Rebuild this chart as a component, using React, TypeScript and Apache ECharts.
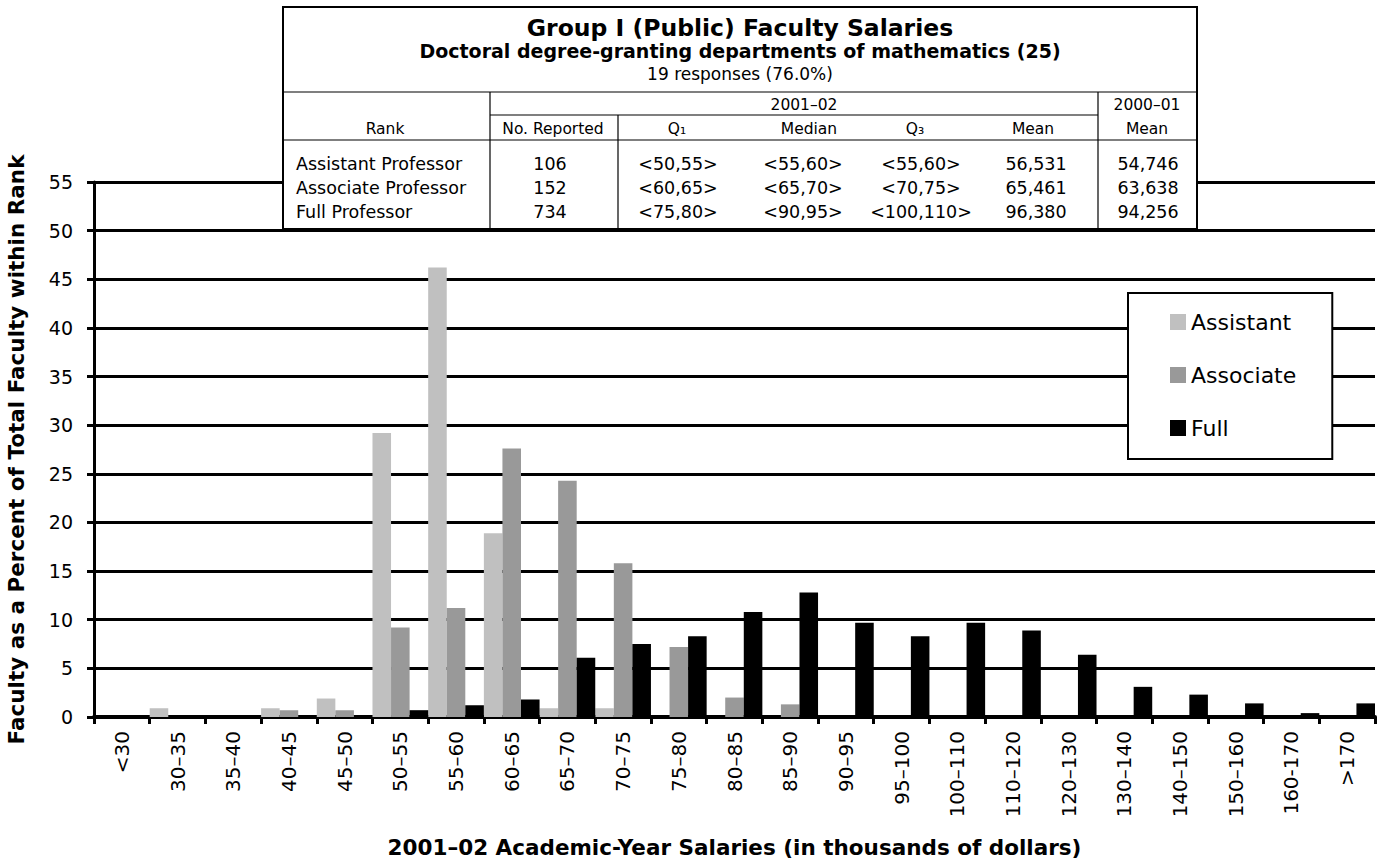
import { useEffect, useRef } from 'react';
import * as echarts from 'echarts';

const categories = ['<30', '30–35', '35–40', '40–45', '45–50', '50–55', '55–60', '60–65', '65–70', '70–75', '75–80', '80–85', '85–90', '90–95', '95–100', '100–110', '110–120', '120–130', '130–140', '140–150', '150–160', '160-170', '>170'];
const assistant = [0, 0.9, 0, 0.9, 1.9, 29.2, 46.2, 18.9, 0.9, 0.9, 0, 0, 0, 0, 0, 0, 0, 0, 0, 0, 0, 0, 0];
const associate = [0, 0, 0, 0.7, 0.7, 9.2, 11.2, 27.6, 24.3, 15.8, 7.2, 2.0, 1.3, 0, 0, 0, 0, 0, 0, 0, 0, 0, 0];
const full = [0, 0, 0, 0, 0, 0.7, 1.2, 1.8, 6.1, 7.5, 8.3, 10.8, 12.8, 9.7, 8.3, 9.7, 8.9, 6.4, 3.1, 2.3, 1.4, 0.4, 1.4];

const seriesNames = ['Assistant', 'Associate', 'Full'];
const seriesColors = ['#c0c0c0', '#999999', '#000000'];

const tableTitle = 'Group I (Public) Faculty Salaries';
const tableSubtitle = 'Doctoral degree-granting departments of mathematics (25)';
const tableResponses = '19 responses (76.0%)';
const periodHeaders = ['2001–02', '2000–01'];
const columnHeaders = ['Rank', 'No. Reported', 'Q₁', 'Median', 'Q₃', 'Mean', 'Mean'];
const rankNames = ['Assistant Professor', 'Associate Professor', 'Full Professor'];
const noReported = ['106', '152', '734'];
const q1Values = ['<50,55>', '<60,65>', '<75,80>'];
const medianValues = ['<55,60>', '<65,70>', '<90,95>'];
const q3Values = ['<55,60>', '<70,75>', '<100,110>'];
const mean0102 = ['56,531', '65,461', '96,380'];
const mean0001 = ['54,746', '63,638', '94,256'];

const FONT = '"DejaVu Sans", "Open Sans", sans-serif';

function txt(text: string, x: number, y: number, size: number, bold = false, align = 'center') {
  return {
    type: 'text',
    z: 101,
    style: {
      text,
      x,
      y,
      fill: '#000',
      fontSize: size,
      fontFamily: FONT,
      fontWeight: bold ? 'bold' : 'normal',
      align,
      textAlign: align,
      verticalAlign: 'middle',
      textVerticalAlign: 'middle',
    },
  };
}

function ln(x1: number, y1: number, x2: number, y2: number, w = 1.2) {
  return {
    type: 'line',
    z: 101,
    shape: { x1, y1, x2, y2 },
    style: { stroke: '#000', lineWidth: w },
  };
}

function buildTable() {
  const L = 283, R = 1197, T = 7, B = 229;
  const els: any[] = [];
  els.push({
    type: 'rect',
    z: 100,
    shape: { x: L, y: T, width: R - L, height: B - T },
    style: { fill: '#fff', stroke: '#000', lineWidth: 2 },
  });
  els.push(ln(L, 92, R, 92));
  els.push(ln(490, 115, 1098, 115));
  els.push(ln(L, 140, R, 140));
  els.push(ln(490, 92, 490, B));
  els.push(ln(618, 115, 618, B));
  els.push(ln(1098, 92, 1098, B));

  els.push(txt(tableTitle, 740, 28, 23.5, true));
  els.push(txt(tableSubtitle, 740, 51, 19, true));
  els.push(txt(tableResponses, 740, 74, 17));
  els.push(txt(periodHeaders[0], 804, 105, 15.5));
  els.push(txt(periodHeaders[1], 1147, 105, 15.5));

  const headerX = [385, 553, 677, 809, 915, 1033, 1147];
  columnHeaders.forEach((h, i) => els.push(txt(h, headerX[i], 129, 15.5)));

  const rowY = [164, 188, 212];
  const cols = [noReported, q1Values, medianValues, q3Values, mean0102, mean0001];
  const colX = [550, 678, 803, 921, 1036, 1148];
  rankNames.forEach((r, i) => {
    els.push(txt(r, 296, rowY[i], 17.5, false, 'left'));
    cols.forEach((c, j) => els.push(txt(c[i], colX[j], rowY[i], 17.5)));
  });
  return els;
}

export default function App() {
  const ref = useRef<HTMLDivElement>(null);
  useEffect(() => {
    if (!ref.current) return;
    const chart = echarts.init(ref.current, undefined, { renderer: 'svg' });
    const values = [assistant, associate, full];
    chart.setOption({
      animation: false,
      backgroundColor: '#fff',
      textStyle: { fontFamily: FONT, color: '#000' },
      grid: { left: 94, right: 7, top: 182, bottom: 141, containLabel: false, outerBoundsMode: 'none' },
      legend: {
        data: seriesNames,
        orient: 'vertical',
        left: 1128,
        top: 293,
        backgroundColor: '#fff',
        borderColor: '#000',
        borderWidth: 2,
        borderRadius: 0,
        padding: [18, 36, 20, 42],
        itemGap: 31,
        itemWidth: 16,
        itemHeight: 16,
        icon: 'rect',
        z: 50,
        textStyle: { fontSize: 22, fontFamily: FONT, color: '#000', lineHeight: 22 },
      },
      xAxis: {
        type: 'category',
        data: categories,
        name: '2001–02 Academic-Year Salaries (in thousands of dollars)',
        nameLocation: 'middle',
        nameGap: 119,
        nameTextStyle: { fontSize: 21.5, fontWeight: 'bold', fontFamily: FONT, color: '#000' },
        axisLine: { show: true, lineStyle: { color: '#000', width: 4 } },
        axisTick: { show: true, length: 7, lineStyle: { color: '#000', width: 3 }, alignWithLabel: false },
        axisLabel: { rotate: 90, fontSize: 20, margin: 14, color: '#000', fontFamily: FONT, interval: 0 },
        splitLine: { show: false },
      },
      yAxis: {
        type: 'value',
        min: 0,
        max: 55,
        interval: 5,
        name: 'Faculty as a Percent of Total Faculty within Rank',
        nameLocation: 'middle',
        nameRotate: 90,
        nameGap: 67,
        nameTextStyle: { fontSize: 21.5, fontWeight: 'bold', fontFamily: FONT, color: '#000' },
        axisLine: { show: true, lineStyle: { color: '#000', width: 3 } },
        axisTick: { show: true, length: 7, lineStyle: { color: '#000', width: 3 } },
        axisLabel: { fontSize: 19, margin: 21, color: '#000', fontFamily: FONT },
        splitLine: { show: true, lineStyle: { color: '#000', width: 3 } },
      },
      series: seriesNames.map((name, i) => ({
        name,
        type: 'bar',
        data: values[i],
        barGap: 0,
        barCategoryGap: 0,
        itemStyle: { color: seriesColors[i] },
      })),
      graphic: { elements: buildTable() },
    });
    return () => chart.dispose();
  }, []);
  return <div ref={ref} style={{ position: 'absolute', left: 0, top: 0, width: 1382, height: 858 }} />;
}
